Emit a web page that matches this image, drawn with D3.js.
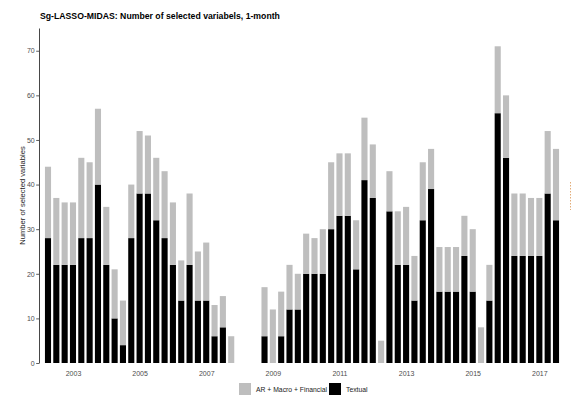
<!DOCTYPE html>
<html>
<head>
<meta charset="utf-8">
<script src="https://cdn.jsdelivr.net/npm/d3@7"></script>
<style>
  html, body { margin: 0; padding: 0; background: #fff; }
  svg { display: block; font-family: "Liberation Sans", Arial, sans-serif; }
</style>
</head>
<body>
<svg id="chart" width="571" height="396"></svg>
<script>
// Quarterly observations, 2002Q2 – 2017Q3
const quarters = [
  "2002Q2","2002Q3","2002Q4",
  "2003Q1","2003Q2","2003Q3","2003Q4",
  "2004Q1","2004Q2","2004Q3","2004Q4",
  "2005Q1","2005Q2","2005Q3","2005Q4",
  "2006Q1","2006Q2","2006Q3","2006Q4",
  "2007Q1","2007Q2","2007Q3","2007Q4",
  "2008Q1","2008Q2","2008Q3","2008Q4",
  "2009Q1","2009Q2","2009Q3","2009Q4",
  "2010Q1","2010Q2","2010Q3","2010Q4",
  "2011Q1","2011Q2","2011Q3","2011Q4",
  "2012Q1","2012Q2","2012Q3","2012Q4",
  "2013Q1","2013Q2","2013Q3","2013Q4",
  "2014Q1","2014Q2","2014Q3","2014Q4",
  "2015Q1","2015Q2","2015Q3","2015Q4",
  "2016Q1","2016Q2","2016Q3","2016Q4",
  "2017Q1","2017Q2","2017Q3"
];

// Number of selected textual variables per quarter
const textual = [
  28,22,22,
  22,28,28,40,
  22,10,4,28,
  38,38,32,28,
  22,14,22,14,
  14,6,8,0,
  0,0,0,6,
  0,6,12,12,
  20,20,20,30,
  33,33,21,41,
  37,0,34,22,
  22,14,32,39,
  16,16,16,24,
  16,0,14,56,
  46,24,24,24,
  24,38,32
];

// Number of selected AR + macro + financial variables per quarter
const arMacroFin = [
  16,15,14,
  14,18,17,17,
  13,11,10,12,
  14,13,14,15,
  14,9,16,11,
  13,7,7,6,
  0,0,0,11,
  12,10,10,8,
  9,8,10,15,
  14,14,11,14,
  12,5,9,12,
  13,10,13,9,
  10,10,10,9,
  14,8,8,15,
  14,14,14,13,
  13,14,16
];

const yTicks = [0, 10, 20, 30, 40, 50, 60, 70];
const xTickYears = ["2003","2005","2007","2009","2011","2013","2015","2017"];

const seriesNames = ["AR + Macro + Financial", "Textual"];
const seriesColors = { "AR + Macro + Financial": "#bebebe", "Textual": "#000000" };

const svg = d3.select("#chart");

const panel = { left: 39, right: 565, top: 28, bottom: 363 };

const x = d3.scaleLinear()
  .domain([-1.08, quarters.length - 1 + 1.08])
  .range([panel.left, panel.right]);

const y = d3.scaleLinear()
  .domain([0, 75.1])
  .range([panel.bottom, panel.top]);

const barW = 6.1;

// Stack: textual at the bottom, the rest on top
const rows = quarters.map((q, i) => ({
  q, i,
  "Textual": textual[i],
  "AR + Macro + Financial": arMacroFin[i]
}));
const stack = d3.stack().keys(["Textual", "AR + Macro + Financial"]);
const layers = stack(rows);

svg.append("g")
  .selectAll("g")
  .data(layers)
  .join("g")
  .attr("fill", d => seriesColors[d.key])
  .selectAll("rect")
  .data(d => d.filter(s => s[1] - s[0] > 0))
  .join("rect")
  .attr("x", d => x(d.data.i) - barW / 2)
  .attr("width", barW)
  .attr("y", d => y(d[1]))
  .attr("height", d => y(d[0]) - y(d[1]));

// Y axis
const yAxis = svg.append("g")
  .attr("transform", `translate(${panel.left},0)`)
  .call(d3.axisLeft(y).tickValues(yTicks).tickSize(2.8).tickSizeOuter(0).tickPadding(1.5));
yAxis.select(".domain").attr("stroke", "#333").attr("stroke-width", 0.9);
yAxis.selectAll(".tick line").attr("stroke", "#333").attr("stroke-width", 0.8);
yAxis.selectAll(".tick text")
  .attr("fill", "#4d4d4d")
  .style("font-size", "7px")
  .style("font-family", "'Liberation Sans', Arial, sans-serif");

// X axis: year labels only, no line or ticks
const tickIdx = xTickYears.map(yr => quarters.indexOf(yr + "Q1"));
const xAxis = svg.append("g")
  .attr("transform", `translate(0,${panel.bottom})`)
  .call(d3.axisBottom(x)
    .tickValues(tickIdx)
    .tickFormat(i => quarters[i].slice(0, 4))
    .tickSize(0)
    .tickPadding(8.5));
xAxis.select(".domain").remove();
xAxis.selectAll(".tick text")
  .attr("fill", "#4d4d4d")
  .style("font-size", "7px")
  .style("font-family", "'Liberation Sans', Arial, sans-serif");

// Y axis title
svg.append("text")
  .attr("transform", `translate(24.5,${(panel.top + panel.bottom) / 2}) rotate(-90)`)
  .attr("text-anchor", "middle")
  .attr("fill", "#222")
  .style("font-size", "7.6px")
  .text("Number of selected variables");

// Title
svg.append("text")
  .attr("x", 40)
  .attr("y", 19)
  .attr("fill", "#000")
  .style("font-size", "8.7px")
  .style("font-weight", "bold")
  .text("Sg-LASSO-MIDAS: Number of selected variabels, 1-month");

// Legend
const legend = svg.append("g");
const legendItems = [
  { name: seriesNames[0], x: 239 },
  { name: seriesNames[1], x: 329 }
];
legend.selectAll("rect")
  .data(legendItems)
  .join("rect")
  .attr("x", d => d.x)
  .attr("y", 383)
  .attr("width", 12)
  .attr("height", 12)
  .attr("fill", d => seriesColors[d.name]);
legend.selectAll("text")
  .data(legendItems)
  .join("text")
  .attr("x", d => d.x + 17)
  .attr("y", 391.5)
  .attr("fill", "#222")
  .style("font-size", "6.8px")
  .text(d => d.name);

// Faint dotted mark at the right edge
svg.append("line")
  .attr("x1", 570.5).attr("x2", 570.5)
  .attr("y1", 182).attr("y2", 210)
  .attr("stroke", "#e2ac78")
  .attr("stroke-width", 1)
  .attr("stroke-dasharray", "1.5,1.5");
</script>
</body>
</html>
